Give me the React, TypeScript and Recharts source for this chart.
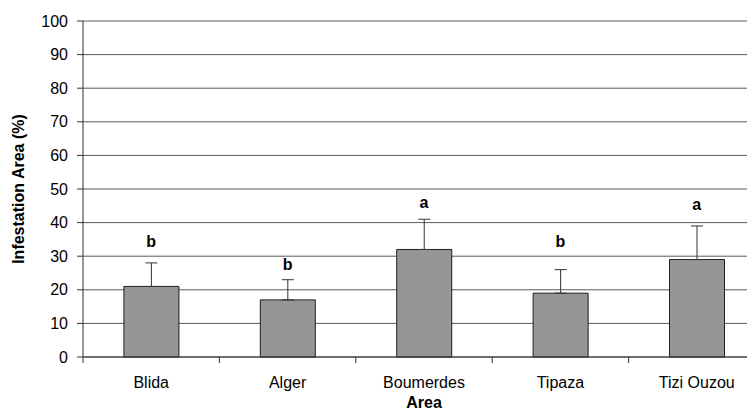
import React from "react";
import {
  ComposedChart,
  Bar,
  Line,
  XAxis,
  YAxis,
  CartesianGrid,
  ErrorBar,
  LabelList,
  Label,
} from "recharts";

const categories = ["Blida", "Alger", "Boumerdes", "Tipaza", "Tizi Ouzou"];
const infestation = [21, 17, 32, 19, 29];
const errorUpper = [28, 23, 41, 26, 39];
const letters = ["b", "b", "a", "b", "a"];
const letterLevel = [34.5, 27.5, 46, 34.5, 45.5];
const yTicks = [0, 10, 20, 30, 40, 50, 60, 70, 80, 90, 100];

const data = categories.map((c, i) => ({
  area: c,
  value: infestation[i],
  err: [0, errorUpper[i] - infestation[i]],
  letter: letters[i],
  letterY: letterLevel[i],
}));

const FONT = "'Liberation Sans', Arial, sans-serif";
const FS = 16;

const YTitle = (props: any) => {
  const vb = props.viewBox;
  const cx = vb.x + 10;
  const cy = vb.y + vb.height / 2;
  return (
    <text
      x={cx}
      y={cy}
      transform={`rotate(-90, ${cx}, ${cy})`}
      textAnchor="middle"
      dominantBaseline="central"
      fontFamily={FONT}
      fontWeight="bold"
      fontSize={FS}
      fill="#000"
    >
      Infestation Area (%)
    </text>
  );
};

const CatTick = (props: any) => {
  const { x, y, payload } = props;
  const half = payload && payload.offset ? payload.offset : 0;
  const bx = x - half;
  return (
    <g>
      <line x1={bx} y1={y} x2={bx} y2={y + 6} stroke="#333" strokeWidth={1} />
      <text
        x={x}
        y={y + 20}
        dy="0.71em"
        textAnchor="middle"
        fontFamily={FONT}
        fontSize={FS}
        fill="#000"
      >
        {payload.value}
      </text>
    </g>
  );
};

export default function App() {
  return (
    <div style={{ width: 747, height: 402, overflow: "hidden" }}>
      <ComposedChart
        width={760}
        height={402}
        data={data}
        barCategoryGap="30%"
        margin={{ top: 13, right: 3, left: 0, bottom: 23 }}
      >
        <CartesianGrid vertical={false} stroke="#5a5a5a" strokeWidth={1} />
        <XAxis
          dataKey="area"
          type="category"
          height={30}
          axisLine={{ stroke: "#333" }}
          tickLine={false}
          tickSize={0}
          tickMargin={0}
          interval={0}
          tick={<CatTick />}
        >
          <Label
            value="Area"
            position="bottom"
            offset={10}
            style={{ fontFamily: FONT, fontWeight: "bold", fontSize: FS, fill: "#000" }}
          />
        </XAxis>
        <YAxis
          domain={[0, 100]}
          ticks={yTicks}
          interval={0}
          width={75}
          tickSize={6}
          tickMargin={9}
          axisLine={{ stroke: "#333" }}
          tickLine={{ stroke: "#333" }}
          tick={{ fontFamily: FONT, fontSize: FS, fill: "#000" }}
        >
          <Label content={<YTitle />} />
        </YAxis>
        <Bar
          dataKey="value"
          fill="#969696"
          stroke="#1e1e1e"
          strokeWidth={1}
          isAnimationActive={false}
        >
          <ErrorBar dataKey="err" width={6} stroke="#333" strokeWidth={1} direction="y" />
        </Bar>
        <Line
          dataKey="letterY"
          stroke="none"
          dot={false}
          activeDot={false}
          isAnimationActive={false}
        >
          <LabelList
            dataKey="letter"
            position="center"
            style={{ fontFamily: FONT, fontWeight: "bold", fontSize: FS, fill: "#000" }}
          />
        </Line>
      </ComposedChart>
    </div>
  );
}
